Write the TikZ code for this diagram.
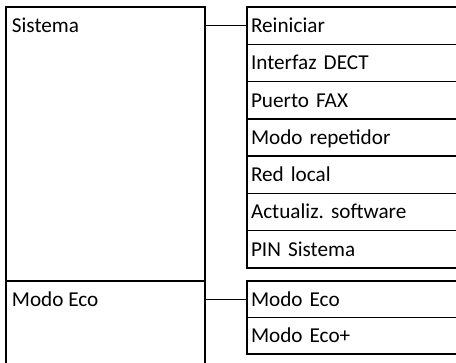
\documentclass[tikz,border=0pt]{standalone}
\usepackage{fontspec}
\setmainfont{Carlito}
\frenchspacing
\usetikzlibrary{positioning}
\begin{document}
\begin{tikzpicture}[x=0.5pt, y=-0.5pt, line width=0.7pt,
  font=\fontsize{10.6}{12.6}\selectfont,
  menubox/.style={draw, rectangle, outer sep=0pt, minimum width=99.5pt},
  itembox/.style={draw, rectangle, outer sep=0pt, inner xsep=2pt, inner ysep=0pt,
    text width=130pt, align=left, minimum height=18.65pt, text height=6.8pt, text depth=0pt},
  menulabel/.style={right, inner xsep=2.6pt, inner ysep=0pt, text height=6.8pt, text depth=0pt}]
\useasboundingbox (0,0) rectangle (456,363);
\clip (0,0) rectangle (456,363);
% Sistema
\node[menubox, anchor=north west, minimum height=137pt] (sistema) at (6,7) {};
\node[itembox, anchor=north west] (reiniciar) at (247,7) {Reiniciar};
\node[itembox, below=0pt of reiniciar] (dect) {Interfaz DECT};
\node[itembox, below=0pt of dect] (fax) {Puerto FAX};
\node[itembox, below=0pt of fax] (repetidor) {Modo repetidor};
\node[itembox, below=0pt of repetidor] (redlocal) {Red local};
\node[itembox, below=0pt of redlocal] (software) {Actualiz. software};
\node[itembox, below=0pt of software] (pin) {PIN Sistema};
\node[menulabel] (sistematxt) at (sistema.west |- reiniciar) {Sistema};
\draw (sistema.east |- reiniciar) -- (reiniciar.west);
% Modo Eco
\node[menubox, below=0pt of sistema, minimum height=60pt] (eco) {};
\node[itembox, anchor=north west, minimum height=18.25pt] (ecosub) at (247,281) {Modo Eco};
\node[itembox, below=0pt of ecosub, minimum height=18.25pt] (ecoplus) {Modo Eco+};
\node[menulabel] (ecotxt) at (eco.west |- ecosub) {Modo Eco};
\draw (eco.east |- ecosub) -- (ecosub.west);
\end{tikzpicture}
\end{document}
